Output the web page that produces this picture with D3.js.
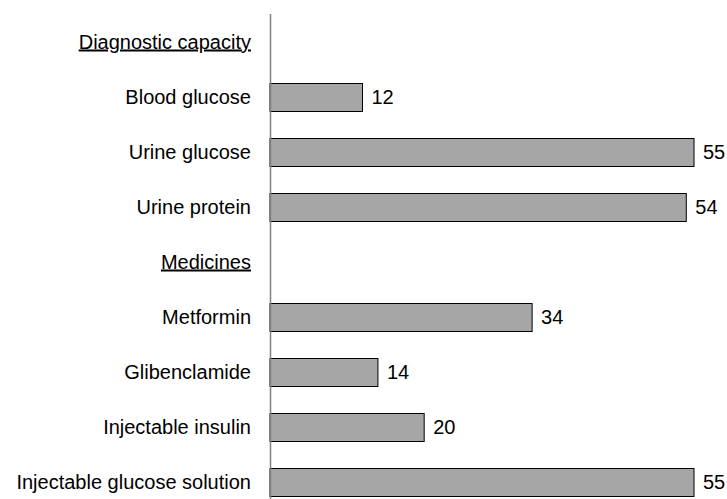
<!DOCTYPE html>
<html>
<head>
<meta charset="utf-8">
<script src="https://cdn.jsdelivr.net/npm/d3@7"></script>
<style>
  html, body { margin: 0; padding: 0; background: #fff; }
  svg { display: block; font-family: "Liberation Sans", Arial, sans-serif; }
</style>
</head>
<body>
<svg id="chart" width="727" height="499"></svg>
<script>
// Rows in display order; section headers carry no value
const categories = [
  "Diagnostic capacity", "Blood glucose", "Urine glucose", "Urine protein",
  "Medicines", "Metformin", "Glibenclamide", "Injectable insulin",
  "Injectable glucose solution"
];
const headers = ["Diagnostic capacity", "Medicines"];
const values = [null, 12, 55, 54, null, 34, 14, 20, 55];

const svg = d3.select("#chart");
const axisX = 270;

const x = d3.scaleLinear().domain([0, 55]).range([axisX, 694]);
const y = d3.scaleBand().domain(categories).range([14, 509]).paddingInner(0.5).paddingOuter(0.25);

const rows = categories.map((c, i) => ({ name: c, value: values[i], header: headers.includes(c) }));

// Bars
svg.append("g").selectAll("rect")
  .data(rows.filter(d => d.value != null))
  .join("rect")
  .attr("x", x(0))
  .attr("y", d => Math.round(y(d.name)) + 0.5)
  .attr("width", d => x(d.value) - x(0))
  .attr("height", Math.round(y.bandwidth()))
  .attr("fill", "#a6a6a6")
  .attr("stroke", "#000")
  .attr("stroke-width", 1);

// Value labels
svg.append("g").selectAll("text")
  .data(rows.filter(d => d.value != null))
  .join("text")
  .attr("x", d => x(d.value) + 9)
  .attr("y", d => y(d.name) + y.bandwidth() / 2)
  .attr("dy", "0.35em")
  .attr("font-size", 20)
  .attr("fill", "#000")
  .text(d => d.value);

// Category labels
svg.append("g").selectAll("text")
  .data(rows)
  .join("text")
  .attr("x", 251)
  .attr("y", d => y(d.name) + y.bandwidth() / 2)
  .attr("dy", "0.35em")
  .attr("text-anchor", "end")
  .attr("font-size", 20)
  .attr("fill", "#000")
  .attr("text-decoration", d => d.header ? "underline" : null)
  .text(d => d.name);

// Vertical axis line
svg.append("line")
  .attr("x1", axisX + 0.5).attr("x2", axisX + 0.5)
  .attr("y1", 14).attr("y2", 499)
  .attr("stroke", "#808080")
  .attr("stroke-width", 1.5);
</script>
</body>
</html>
